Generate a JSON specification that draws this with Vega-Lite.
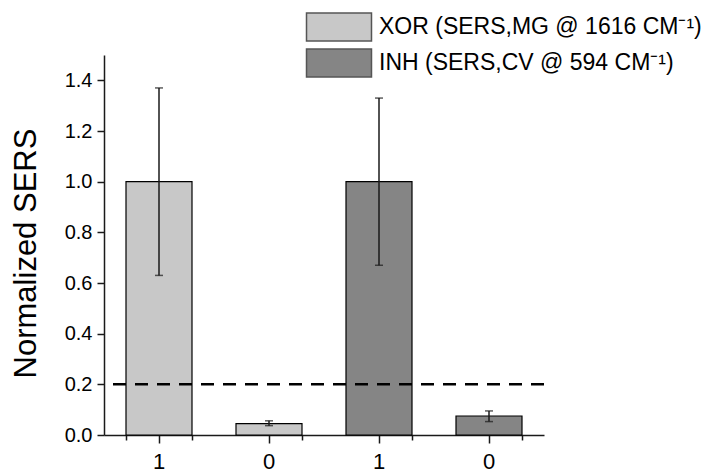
{
  "$schema": "https://vega.github.io/schema/vega-lite/v6.json",
  "width": 440,
  "height": 380,
  "autosize": {"type": "none"},
  "padding": {"left": 104, "top": 55, "right": 161, "bottom": 37},
  "background": "white",
  "config": {
    "view": {"stroke": null},
    "font": "Liberation Sans",
    "axis": {"grid": false, "domainColor": "#1a1a1a", "tickColor": "#1a1a1a", "domainWidth": 1.5, "tickWidth": 1.5, "labelColor": "black", "titleColor": "black", "labelFont": "Liberation Sans", "titleFont": "Liberation Sans"},
    "axisY": {
      "title": "Normalized SERS", "titleFontSize": 31, "titleFontWeight": "normal", "titlePadding": 22, "titleY": 198,
      "values": [0, 0.1, 0.2, 0.3, 0.4, 0.5, 0.6, 0.7, 0.8, 0.9, 1.0, 1.1, 1.2, 1.3, 1.4, 1.5],
      "labelExpr": "round(datum.value*10) % 2 == 0 && datum.value < 1.45 ? format(datum.value, '.1f') : ''",
      "tickSize": {"condition": {"test": "round(datum.value*10) % 2 == 1", "value": 4}, "value": 7},
      "labelFontSize": 20, "labelPadding": 5
    }
  },
  "datasets": {
    "bars": [
      {"id": "a", "label": "1", "series": "XOR (SERS,MG @ 1616 CM⁻¹)", "value": 1.0, "lo": 0.63, "hi": 1.37},
      {"id": "b", "label": "0", "series": "XOR (SERS,MG @ 1616 CM⁻¹)", "value": 0.045, "lo": 0.037, "hi": 0.056},
      {"id": "c", "label": "1", "series": "INH (SERS,CV @ 594 CM⁻¹)", "value": 1.0, "lo": 0.67, "hi": 1.33},
      {"id": "d", "label": "0", "series": "INH (SERS,CV @ 594 CM⁻¹)", "value": 0.075, "lo": 0.053, "hi": 0.095}
    ],
    "threshold": [{"t": 0.2}]
  },
  "layer": [
    {
      "data": {"name": "bars"},
      "mark": {"type": "bar", "stroke": "black", "strokeWidth": 1.2},
      "encoding": {
        "x": {
          "field": "id", "type": "nominal", "sort": ["a", "b", "c", "d"],
          "scale": {"paddingInner": 0.4, "paddingOuter": 0.2},
          "axis": {"title": null, "orient": "bottom", "labelAngle": 0, "labelExpr": "datum.value == 'a' || datum.value == 'c' ? '1' : '0'", "tickSize": 8, "labelFontSize": 22, "labelPadding": 8, "tickBand": "center"}
        },
        "y": {
          "field": "value", "type": "quantitative",
          "scale": {"domain": [0, 1.5], "nice": false},
          "axis": {"title": "Normalized SERS"}
        },
        "color": {
          "field": "series", "type": "nominal",
          "scale": {"domain": ["XOR (SERS,MG @ 1616 CM⁻¹)", "INH (SERS,CV @ 594 CM⁻¹)"], "range": ["#c8c8c8", "#858585"]},
          "legend": {
            "title": null, "orient": "none", "legendX": 218, "legendY": -45, "padding": 0,
            "symbolType": "M-2,-0.86L2,-0.86L2,0.86L-2,0.86Z", "symbolSize": 1056,
            "symbolStrokeColor": "#555", "symbolStrokeWidth": 1.5, "symbolOpacity": 1,
            "labelFontSize": 23, "labelColor": "black", "labelLimit": 400, "labelOffset": 23, "rowPadding": 2
          }
        }
      }
    },
    {
      "data": {"name": "bars"},
      "mark": {"type": "errorbar", "ticks": {"size": 8, "thickness": 1.5, "color": "#1a1a1a"}, "rule": {"strokeWidth": 1.5, "color": "#1a1a1a"}},
      "encoding": {
        "x": {"field": "id", "type": "nominal", "sort": ["a", "b", "c", "d"], "axis": {"title": null, "orient": "bottom", "labels": false, "domain": false, "tickSize": 5, "tickBand": "extent"}},
        "y": {"field": "lo", "type": "quantitative", "axis": {"title": "Normalized SERS"}},
        "y2": {"field": "hi"}
      }
    },
    {
      "data": {"name": "threshold"},
      "mark": {"type": "rule", "color": "black", "strokeWidth": 2.5, "strokeDash": [13, 9]},
      "encoding": {"y": {"field": "t", "type": "quantitative", "axis": {"title": "Normalized SERS"}}}
    }
  ],
  "resolve": {"axis": {"x": "independent"}}
}
